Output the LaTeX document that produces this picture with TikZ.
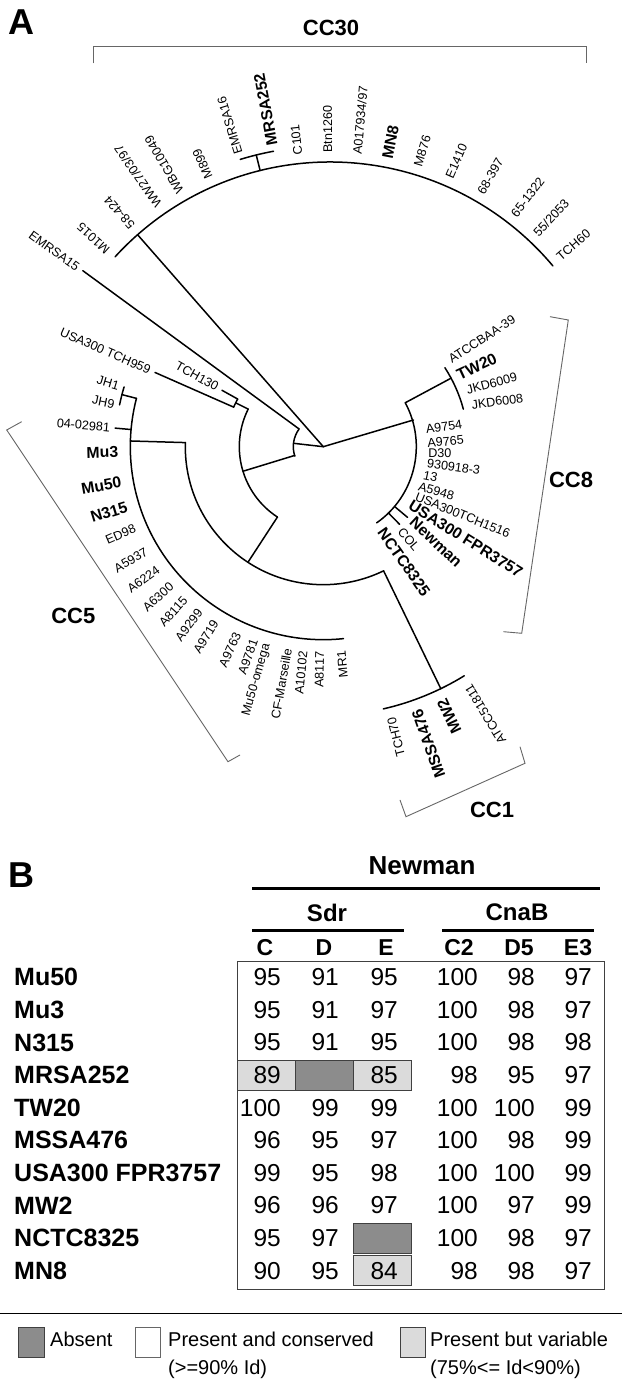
\documentclass[tikz,border=0pt]{standalone}
\usepackage{fontspec}
\setmainfont{Liberation Sans}
\begin{document}
\begin{tikzpicture}[x=1pt,y=1pt,
  br/.style={line width=1.5pt, line cap=round},
  brk/.style={line width=0.9pt, draw=black!60},
  lab/.style={font=\fontsize{12.6}{14}\selectfont, inner sep=0pt},
  blab/.style={font=\fontsize{15.8}{17}\selectfont\bfseries, inner sep=0pt},
  cclab/.style={font=\fontsize{22}{24}\selectfont\bfseries, inner sep=0pt},
  panel/.style={font=\fontsize{36}{38}\selectfont\bfseries, inner sep=0pt},
  hd/.style={font=\fontsize{26}{28}\selectfont\bfseries, inner sep=0pt},
  subhd/.style={font=\fontsize{24}{26}\selectfont\bfseries, inner sep=0pt},
  colhd/.style={font=\fontsize{23}{25}\selectfont\bfseries, inner sep=0pt},
  rowlab/.style={font=\fontsize{25}{27}\selectfont\bfseries, inner sep=0pt, anchor=west},
  num/.style={font=\fontsize{24.5}{26}\selectfont, inner sep=0pt, anchor=east},
  leg/.style={font=\fontsize{20}{22}\selectfont, inner sep=0pt, anchor=west},
  uline/.style={line width=3pt},
  lightcell/.style={fill=black!14, draw=black!75, line width=0.8pt},
  darkcell/.style={fill=black!45, draw=black!75, line width=0.8pt},
  whitecell/.style={fill=white, draw=black!60, line width=0.8pt},
]
\useasboundingbox (0,0) rectangle (623,1379);
\fill[white] (0,0) rectangle (623,1379);

% ---------------- panel labels
\node[panel] (pA) at (21,1357) {A};
\node[panel] (pB) at (21,504) {B};

% ---------------- CC30 cluster (arc centre)
\begin{scope}[shift={(330,926)}]
\coordinate (j30) at (131.4:291pt);
\draw[br] (40:291pt) arc[start angle=40, end angle=137.6, radius=291pt];
\draw[br] (103.9:291pt) -- (103.9:307pt);
\draw[br] (100.6:307pt) arc[start angle=100.6, end angle=107, radius=307pt];
\node[lab, anchor=west, rotate=137.8] (tM1015) at (137.8:300pt) {M1015};
\node[lab, anchor=west, rotate=131.2] (t58424) at (131.2:300pt) {58-424};
\node[lab, anchor=west, rotate=124.8] (tWW) at (124.8:300pt) {WW27/03/97};
\node[lab, anchor=west, rotate=119.9] (tWBG) at (119.9:300pt) {WBG10049};
\node[lab, anchor=west, rotate=113.8] (tM899) at (113.8:300pt) {M899};
\node[lab, anchor=west, rotate=107] (tEM16) at (107:313pt) {EMRSA16};
\node[blab, anchor=west, rotate=100.6] (tMRSA252) at (100.6:313pt) {MRSA252};
\node[lab, anchor=west, rotate=96.1] (tC101) at (96.1:300pt) {C101};
\node[lab, anchor=west, rotate=90.4] (tBtn) at (90.4:300pt) {Btn1260};
\node[lab, anchor=west, rotate=84.8] (tA017) at (84.8:300pt) {A017934/97};
\node[blab, anchor=west, rotate=79] (tMN8) at (79:300pt) {MN8};
\node[lab, anchor=west, rotate=73] (tM876) at (73:300pt) {M876};
\node[lab, anchor=west, rotate=66.6] (tE1410) at (66.6:300pt) {E1410};
\node[lab, anchor=west, rotate=59.9] (t68397) at (59.9:300pt) {68-397};
\node[lab, anchor=west, rotate=52.3] (t651322) at (52.3:300pt) {65-1322};
\node[lab, anchor=west, rotate=46.8] (t552053) at (46.8:300pt) {55/2053};
\node[lab, anchor=west, rotate=40.5] (tTCH60) at (40.5:300pt) {TCH60};
\end{scope}

% ---------------- rest of tree (root centre)
\begin{scope}[shift={(323.3,932.3)}]
\coordinate (root) at (0,0);
% root links
\draw[br] (root) -- (173.5:30pt);
\draw[br] (root) -- (16.5:94pt);
% N1
\draw[br] (143.8:30pt) arc[start angle=143.8, end angle=198.4, radius=30pt];
\draw[br] (143.8:30pt) -- (143.8:298pt);
\draw[br] (197:30pt) -- (197:84pt);
% N2
\draw[br] (153.4:84pt) arc[start angle=153.4, end angle=236.9, radius=84pt];
\draw[br] (153.4:84pt) -- (153.4:98pt);
\draw[br] (150.9:98pt) arc[start angle=150.9, end angle=156.2, radius=98pt];
\draw[br] (156.2:98pt) -- (156.2:184pt);
\draw[br] (150.9:98pt) -- (150.9:116pt);
\draw[br] (236.9:84pt) -- (236.9:138pt);
% N3
\draw[br] (178.3:138pt) arc[start angle=178.3, end angle=295.9, radius=138pt];
\draw[br] (178.3:138pt) -- (178.3:193pt);
\draw[br] (295.9:138pt) -- (295.9:269pt);
% N5 (CC5)
\draw[br] (165.5:193pt) arc[start angle=165.5, end angle=276, radius=193pt];
\draw[br] (165.5:193pt) -- (165.5:208pt);
\draw[br] (163.3:208pt) arc[start angle=163.3, end angle=168.4, radius=208pt];
\draw[br] (174.9:193pt) -- (174.9:209pt);
% CC1
\draw[br] (282.9:269pt) arc[start angle=282.9, end angle=301.6, radius=269pt];
% CC8
\draw[br] (-55:93pt) arc[start angle=-55, end angle=28.2, radius=93pt];
\draw[br] (28.2:93pt) -- (28.2:145pt);
\draw[br] (15:145pt) arc[start angle=15, end angle=33, radius=145pt];
\draw[br] (-40:93pt) -- (-40:110pt);
\draw[br] (-45.5:93pt) -- (-45.5:109pt);

% labels, left side (flipped)
\node[lab, anchor=east, rotate=-36] (tEM15) at (144:303pt) {EMRSA15};
\node[lab, anchor=east, rotate=-23.7] (tTCH959) at (156.3:189pt) {USA300 TCH959};
\node[lab, anchor=east, rotate=-29.2] (tTCH130) at (150.8:121pt) {TCH130};
\node[lab, anchor=east, rotate=-16.5] (tJH1) at (163.5:213pt) {JH1};
\node[lab, anchor=east, rotate=-11.5] (tJH9) at (168.5:213pt) {JH9};
\node[lab, anchor=east, rotate=-5.1] (t0402981) at (174.9:214pt) {04-02981};
% CC5 leaves
\node[blab, anchor=east, rotate=1.5] (tMu3) at (181.5:205pt) {Mu3};
\node[blab, anchor=east, rotate=9.9] (tMu50) at (189.9:205pt) {Mu50};
\node[blab, anchor=east, rotate=17] (tN315) at (197:205pt) {N315};
\node[lab, anchor=east, rotate=23.4] (tED98) at (203.4:205pt) {ED98};
\node[lab, anchor=east, rotate=30.5] (tA5937) at (210.5:205pt) {A5937};
\node[lab, anchor=east, rotate=36.4] (tA6224) at (216.4:205pt) {A6224};
\node[lab, anchor=east, rotate=42.3] (tA6300) at (222.3:205pt) {A6300};
\node[lab, anchor=east, rotate=47.7] (tA8115) at (227.7:205pt) {A8115};
\node[lab, anchor=east, rotate=53] (tA9299) at (233:205pt) {A9299};
\node[lab, anchor=east, rotate=58.3] (tA9719) at (238.3:205pt) {A9719};
\node[lab, anchor=east, rotate=65.3] (tA9763) at (245.3:205pt) {A9763};
\node[lab, anchor=east, rotate=70.3] (tA9781) at (250.3:205pt) {A9781};
\node[lab, anchor=east, rotate=74] (tMuom) at (254:205pt) {Mu50-omega};
\node[lab, anchor=east, rotate=80] (tCF) at (260:205pt) {CF-Marseille};
\node[lab, anchor=east, rotate=84.4] (tA10102) at (264.4:205pt) {A10102};
\node[lab, anchor=east, rotate=89] (tA8117) at (269:205pt) {A8117};
\node[lab, anchor=east, rotate=95] (tMR1) at (275:205pt) {MR1};
% CC1 leaves
\node[lab, anchor=east, rotate=104.1] (tTCH70) at (284.1:279pt) {TCH70};
\node[blab, anchor=east, rotate=109.5] (tMSSA) at (289.5:279pt) {MSSA476};
\node[blab, anchor=east, rotate=115] (tMW2) at (295:279pt) {MW2};
\node[lab, anchor=east, rotate=121.2] (tATCC518) at (301.2:279pt) {ATCC51811};
% CC8 leaves
\node[lab, anchor=west, rotate=33] (tATCCBAA) at (34.4:153pt) {ATCCBAA-39};
\node[blab, anchor=west, rotate=25] (tTW20) at (28:152pt) {TW20};
\node[lab, anchor=west, rotate=15] (tJKD9) at (21.5:154pt) {JKD6009};
\node[lab, anchor=west, rotate=8] (tJKD8) at (15.7:154pt) {JKD6008};
\node[lab, anchor=west, rotate=8] (tA9754) at (9.8:104pt) {A9754};
\node[lab, anchor=west, rotate=5] (tA9765) at (2:104pt) {A9765};
\node[lab, anchor=west, rotate=0] (tD30) at (-3.6:105pt) {D30};
\node[lab, anchor=west, rotate=-8] (t930918) at (-8.9:105pt) {930918-3};
\node[lab, anchor=west, rotate=-12] (t13) at (-15.8:104pt) {13};
\node[lab, anchor=west, rotate=-16] (tA5948) at (-22.4:103pt) {A5948};
\node[lab, anchor=west, rotate=-22] (tTCH1516) at (-28.2:105pt) {USA300TCH1516};
\node[blab, anchor=west, rotate=-32] (tFPR) at (-33.5:104pt) {USA300 FPR3757};
\node[blab, anchor=west, rotate=-43] (tNewman) at (-39.5:115pt) {Newman};
\node[lab, anchor=west, rotate=-50] (tCOL) at (-47:113pt) {COL};
\node[blab, anchor=west, rotate=-55] (tNCTC) at (-55:101pt) {NCTC8325};
\end{scope}
\draw[br] (root) -- (j30);

% ---------------- clade brackets
\draw[brk] (93.3,1315.7) -- (93.3,1332.3) -- (586,1332.3) -- (586,1315.7);
\node[cclab] (cc30) at (331,1351.5) {CC30};
\draw[brk] (550,1062.3) -- (568.3,1059) -- (521.7,745.7) -- (503.3,747.3);
\node[cclab] (cc8) at (571,899) {CC8};
\draw[brk] (21.7,957.3) -- (6.7,949) -- (228,617.3) -- (240,624);
\node[cclab] (cc5) at (73.3,763) {CC5};
\draw[brk] (400,579) -- (406,562.3) -- (525,615.7) -- (520,632.3);
\node[cclab] (cc1) at (492,569) {CC1};

% ---------------- panel B table
\node[hd] (hNewman) at (422,513) {Newman};
\draw[uline] (252,490) -- (600,490);
\node[subhd] (hSdr) at (327,466.5) {Sdr};
\node[subhd] (hCnaB) at (517,466.5) {CnaB};
\draw[uline] (252,448) -- (404,448);
\draw[uline] (442,448) -- (594,448);
\node[colhd] (hC) at (265,431.5) {C};
\node[colhd] (hD) at (324,431.5) {D};
\node[colhd] (hE) at (386,431.5) {E};
\node[colhd] (hC2) at (459,431.5) {C2};
\node[colhd] (hD5) at (519,431.5) {D5};
\node[colhd] (hE3) at (578,431.5) {E3};

% shaded cells
\draw[lightcell] (237,288.9) rectangle (295,318.9);
\draw[darkcell] (295,288.9) rectangle (353,318.9);
\draw[lightcell] (353,288.9) rectangle (411,318.9);
\draw[darkcell] (353,125.9) rectangle (411,155.9);
\draw[lightcell] (353,93.3) rectangle (411,123.3);
\draw[black!75, line width=0.8pt] (237,418) rectangle (604,90);

\foreach \i/\nm/\va/\vb/\vc/\vd/\ve/\vf in {0/Mu50/95/91/95/100/98/97, 1/Mu3/95/91/97/100/98/97, 2/N315/95/91/95/100/98/98, 3/MRSA252/89//85/98/95/97, 4/TW20/100/99/99/100/100/99, 5/MSSA476/96/95/97/100/98/99, 6/USA300 FPR3757/99/95/98/100/100/99, 7/MW2/96/96/97/100/97/99, 8/NCTC8325/95/97//100/98/97, 9/MN8/90/95/84/98/98/97}{
  \pgfmathsetmacro\yy{401.7-32.6*\i}
  \node[rowlab] (row\i) at (14,\yy) {\nm};
  \node[num] (na\i) at (281,\yy) {\va};
  \node[num] (nb\i) at (339,\yy) {\vb};
  \node[num] (nc\i) at (398,\yy) {\vc};
  \node[num] (nd\i) at (478,\yy) {\vd};
  \node[num] (ne\i) at (535,\yy) {\ve};
  \node[num] (nf\i) at (592,\yy) {\vf};
}

% ---------------- legend
\draw[line width=1.5pt] (0,65.7) -- (622,65.7);
\draw[darkcell] (18,22) rectangle (44,52);
\node[leg] (lAbs) at (50,40) {Absent};
\draw[whitecell] (135,22) rectangle (160,52);
\node[leg] (lPC1) at (168,40) {Present and conserved};
\node[leg] (lPC2) at (168,10) {(>=90\% Id)};
\draw[lightcell] (400,22) rectangle (425,52);
\node[leg] (lPV1) at (430,40) {Present but variable};
\node[leg] (lPV2) at (430,10) {(75\%<= Id<90\%)};
\end{tikzpicture}
\end{document}
